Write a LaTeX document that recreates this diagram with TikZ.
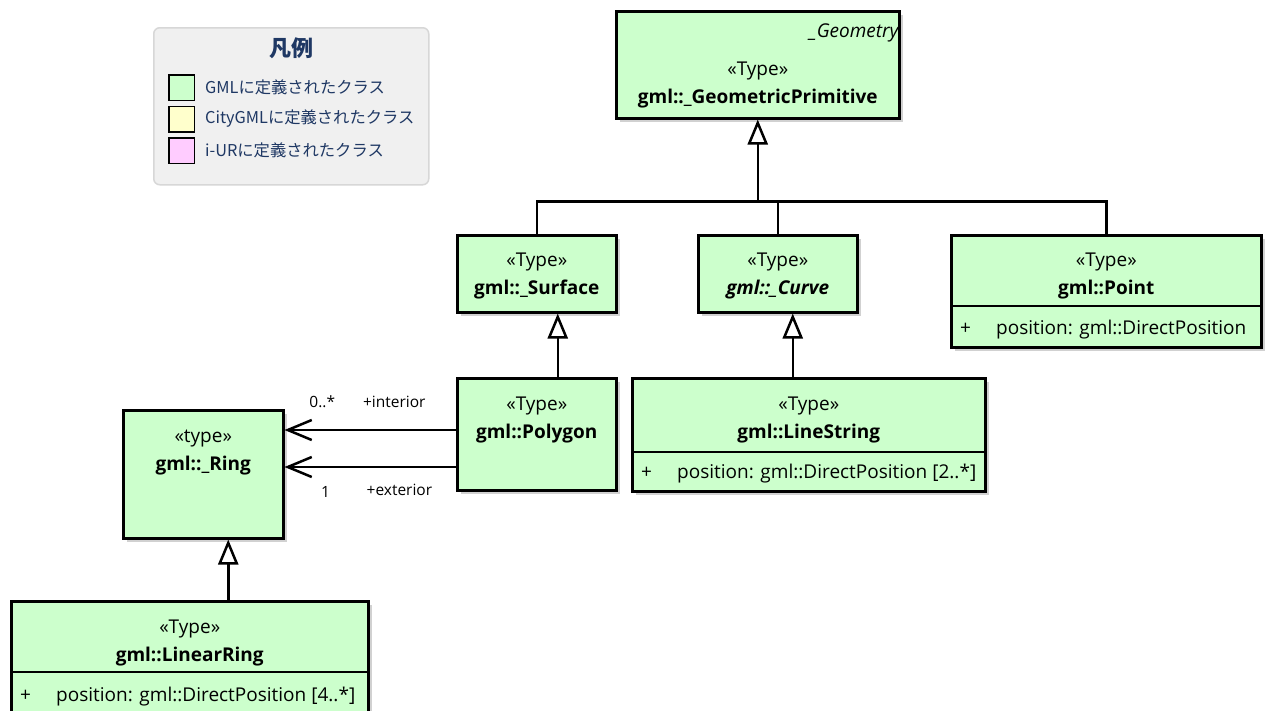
\documentclass[tikz,border=0pt]{standalone}
\usepackage{fontspec}
\setmainfont{Open Sans}
\newfontfamily\jpfont{Noto Sans CJK JP}
\usepackage{tikz}
\usetikzlibrary{positioning, arrows.meta, shadows}
\definecolor{ClassGreen}{RGB}{204, 255, 204}
\definecolor{ClassYellow}{RGB}{255, 255, 204}
\definecolor{ClassPink}{RGB}{255, 204, 255}
\definecolor{LegendBlue}{RGB}{31, 56, 100}
\definecolor{LegendGray}{RGB}{240, 240, 240}
\definecolor{LegendEdge}{RGB}{215, 215, 215}

\begin{document}
\begin{tikzpicture}[x=1pt, y=-1pt,
  cls/.style={rectangle, draw, line width=2.5pt, fill=ClassGreen, anchor=north west, inner sep=0pt,
    drop shadow={shadow xshift=4pt, shadow yshift=-4pt, fill=black!40, opacity=0.45}},
  txt/.style={inner sep=0pt, font=\fontsize{19}{23}\selectfont, text height=13.5pt, text depth=4.5pt},
  tag/.style={inner sep=0pt, font=\fontsize{15.5}{18}\selectfont, text height=11pt, text depth=3pt},
  attr/.style={txt, anchor=west},
  gen/.style={line width=2.5pt, -{Triangle[open, length=25pt, width=20pt]}},
  assoc/.style={line width=2.5pt, -{Straight Barb[length=24pt, width=20pt]}},
  link/.style={line width=2.5pt},
  swatch/.style={rectangle, draw, line width=1.5pt, minimum size=25.5pt, inner sep=0pt, anchor=north west},
  keytxt/.style={inner sep=0pt, text=LegendBlue, font=\jpfont\fontsize{16.3}{20}\selectfont}]
\fill[white] (0,0) rectangle (1285,710);
\useasboundingbox (0,0) rectangle (1285,710);

% legend
\node (key) [rectangle, rounded corners=6pt, draw=LegendEdge, line width=1.5pt, fill=LegendGray,
  minimum width=275pt, minimum height=157pt, anchor=north west] at (153,27) {};
\node (keyT) [inner sep=0pt, text=LegendBlue, font=\jpfont\bfseries\fontsize{22}{26}\selectfont] at ([yshift=-21pt]key.north) {凡例};
\node (swG) [swatch, fill=ClassGreen] at ([xshift=15pt, yshift=-47pt]key.north west) {};
\node (swY) [swatch, fill=ClassYellow, below=4.5pt of swG] {};
\node (swP) [swatch, fill=ClassPink, below=4.5pt of swY] {};
\node (keyG) [keytxt, right=10pt of swG] {GMLに定義されたクラス};
\node (keyY) [keytxt, right=10pt of swY] {CityGMLに定義されたクラス};
\node (keyP) [keytxt, right=10pt of swP] {i-URに定義されたクラス};

% classes
\node (geo) [cls, minimum width=283pt, minimum height=107pt] at (615,10) {};
\node (geoA) [txt, anchor=east] at ([xshift=-1pt, yshift=-23pt]geo.north east) {\textit{\_Geometry}};
\node (geoS) [txt] at ([yshift=-61pt]geo.north) {«Type»};
\node (geoN) [txt, below=9.5pt of geoS] {\textbf{gml::\_GeometricPrimitive}};

\node (surf) [cls, minimum width=159pt, minimum height=77pt] at (456,234) {};
\node (surfS) [txt] at ([yshift=-28pt]surf.north) {«Type»};
\node (surfN) [txt, below=9.5pt of surfS] {\textbf{gml::\_Surface}};

\node (curve) [cls, minimum width=159pt, minimum height=77pt] at (697,234) {};
\node (curveS) [txt] at ([yshift=-28pt]curve.north) {«Type»};
\node (curveN) [txt, below=9.5pt of curveS] {\textbf{\textit{gml::\_Curve}}};

\node (point) [cls, minimum width=310pt, minimum height=112pt] at (950,234) {};
\node (pointS) [txt] at ([yshift=-28pt]point.north) {«Type»};
\node (pointN) [txt, below=9.5pt of pointS] {\textbf{gml::Point}};
\draw[link] ([yshift=-72pt]point.north west) -- ([yshift=-72pt]point.north east);
\node (pointA) [attr] at ([xshift=10pt, yshift=-96pt]point.north west) {\makebox[36pt][l]{+}position: gml::DirectPosition};

\node (poly) [cls, minimum width=159pt, minimum height=112pt] at (456,377) {};
\node (polyS) [txt] at ([yshift=-29pt]poly.north) {«Type»};
\node (polyN) [txt, below=9.5pt of polyS] {\textbf{gml::Polygon}};

\node (lstr) [cls, minimum width=353pt, minimum height=113pt] at (631,377) {};
\node (lstrS) [txt] at ([yshift=-29pt]lstr.north) {«Type»};
\node (lstrN) [txt, below=9.5pt of lstrS] {\textbf{gml::LineString}};
\draw[link] ([yshift=-75pt]lstr.north west) -- ([yshift=-75pt]lstr.north east);
\node (lstrA) [attr] at ([xshift=10pt, yshift=-97pt]lstr.north west) {\makebox[36pt][l]{+}position: gml::DirectPosition [2..*]};

\node (ring) [cls, minimum width=160pt, minimum height=128pt] at (122,409) {};
\node (ringS) [txt] at ([yshift=-29pt]ring.north) {«type»};
\node (ringN) [txt, below=9.5pt of ringS] {\textbf{gml::\_Ring}};

\node (lring) [cls, minimum width=357pt, minimum height=111pt] at (10,600) {};
\node (lringS) [txt] at ([yshift=-29pt]lring.north) {«Type»};
\node (lringN) [txt, below=9.5pt of lringS] {\textbf{gml::LinearRing}};
\draw[link] ([yshift=-72pt]lring.north west) -- ([yshift=-72pt]lring.north east);
\node (lringA) [attr] at ([xshift=10pt, yshift=-97pt]lring.north west) {\makebox[36pt][l]{+}position: gml::DirectPosition [4..*]};

% generalisations
\coordinate (fork) at ([yshift=-82pt]geo.south);
\draw[link] (surf.north) |- (point.north |- fork) -- (point.north);
\draw[link] (curve.north) -- (curve.north |- fork);
\draw[gen] (fork) -- (geo.south);
\coordinate (surfG) at ([xshift=21pt]surf.south);
\draw[gen] (surfG |- poly.north) -- (surfG);
\coordinate (curveG) at ([xshift=15pt]curve.south);
\draw[gen] (curveG |- lstr.north) -- (curveG);
\coordinate (ringG) at ([xshift=25pt]ring.south);
\draw[gen] (ringG |- lring.north) -- (ringG);

% associations
\coordinate (intA) at ([yshift=-53pt]poly.north west);
\coordinate (extA) at ([yshift=-90pt]poly.north west);
\draw[assoc] (intA) -- node[tag, pos=0.36, yshift=27pt] {+interior} node[tag, pos=0.78, yshift=27pt] {0..*} (intA -| ring.east);
\draw[assoc] (extA) -- node[tag, pos=0.33, yshift=-24pt] {+exterior} node[tag, pos=0.76, yshift=-26pt] {1} (extA -| ring.east);
\end{tikzpicture}
\end{document}
